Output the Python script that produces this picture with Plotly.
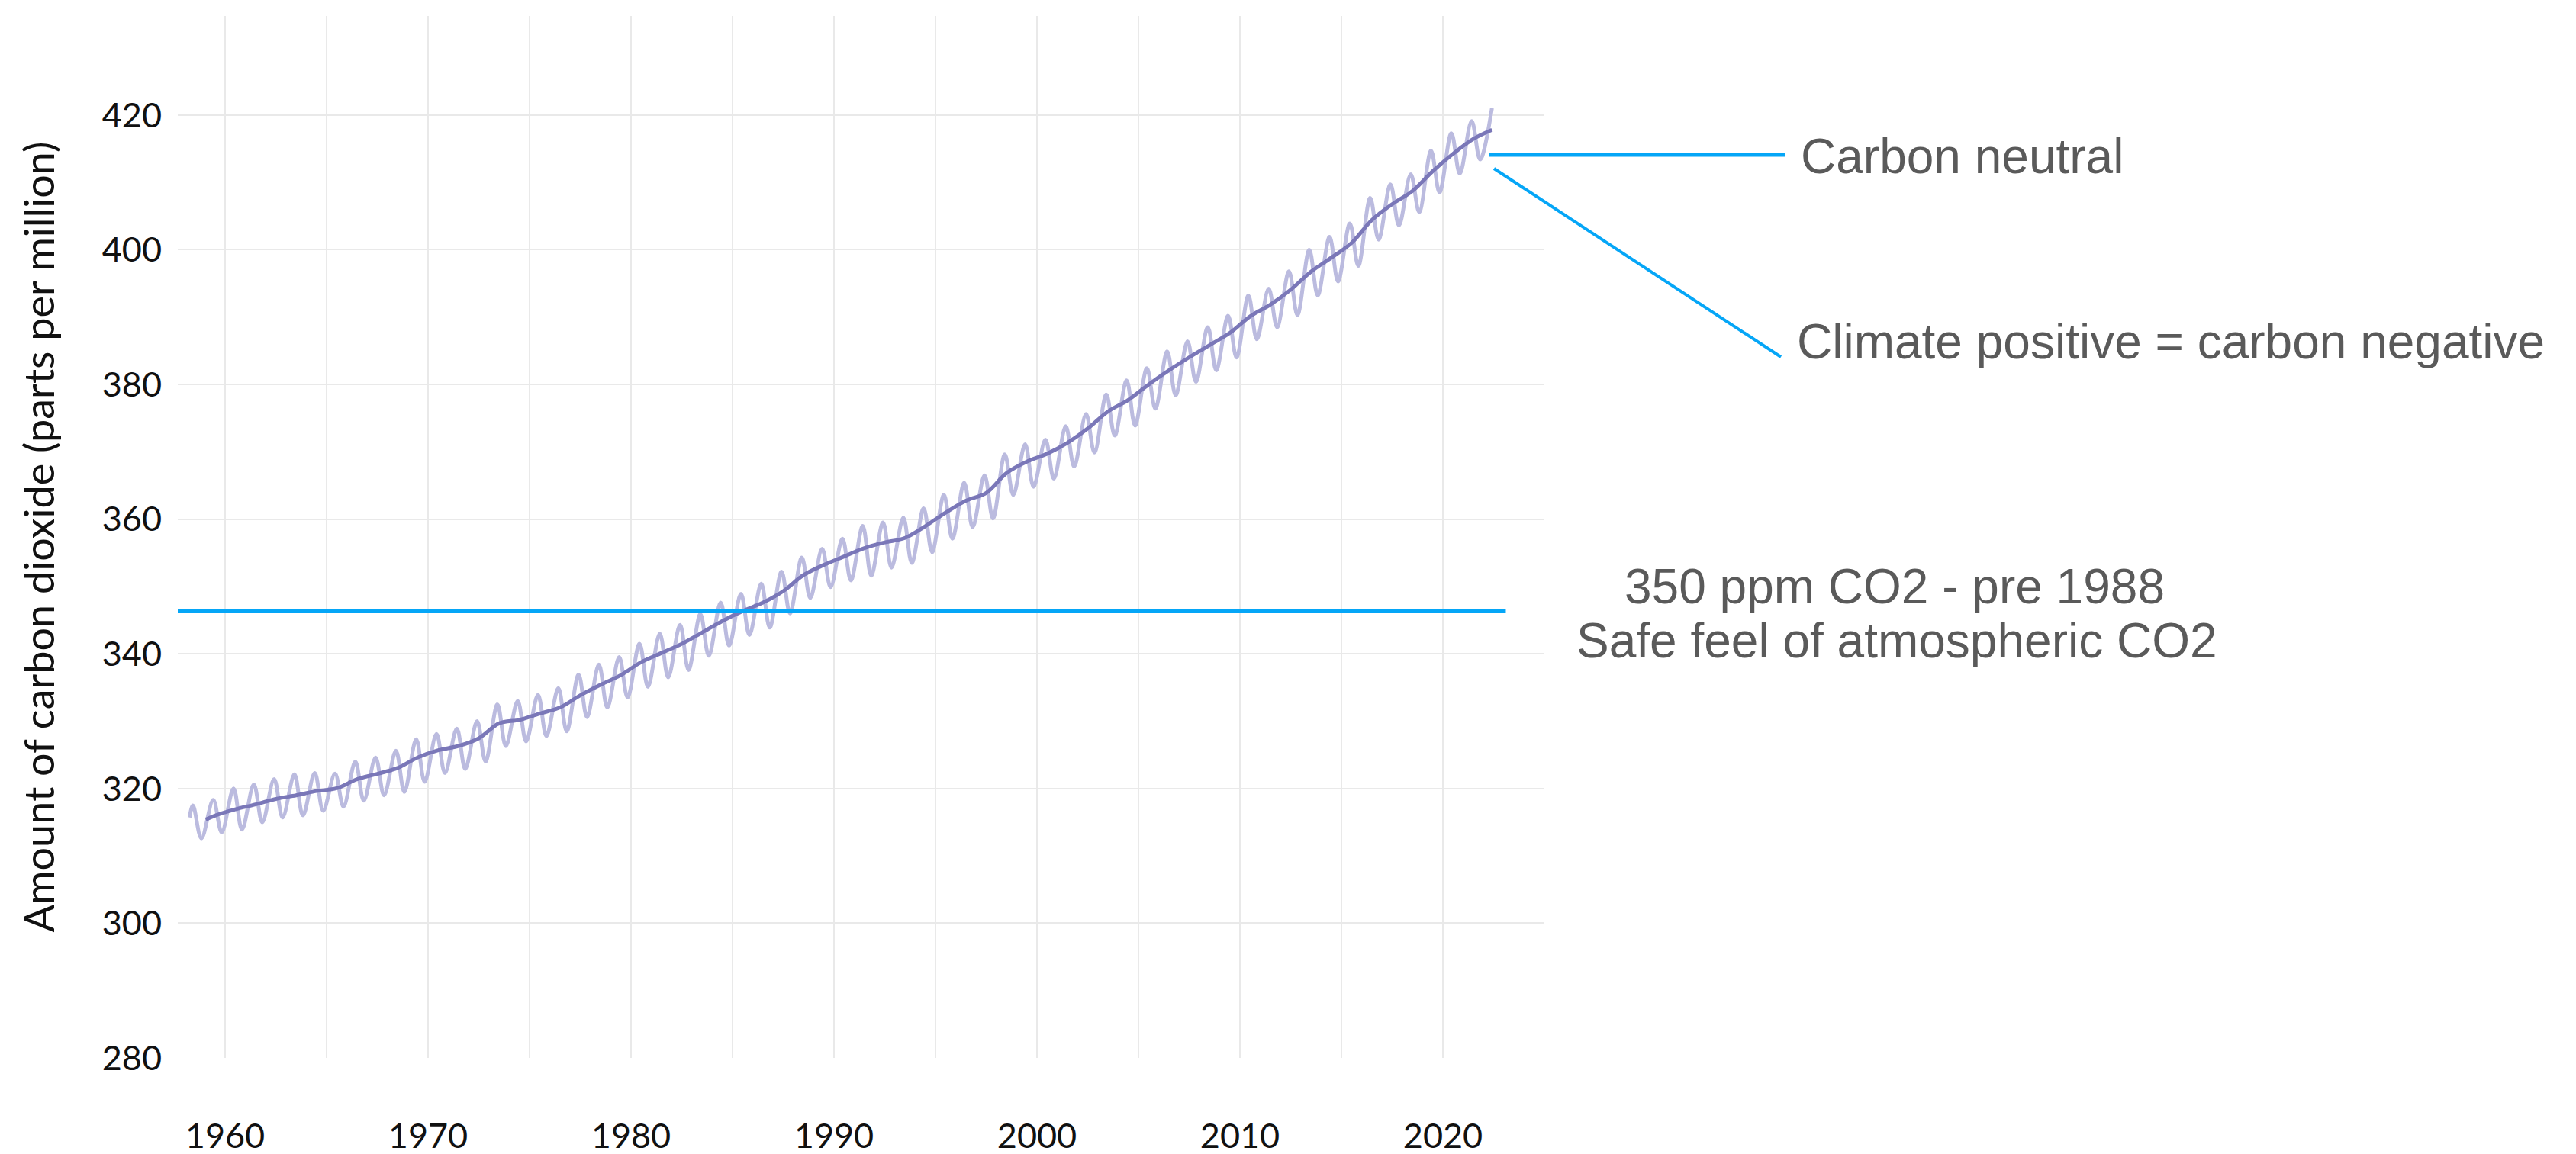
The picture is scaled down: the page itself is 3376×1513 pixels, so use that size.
import plotly.graph_objects as go

# ---------------- data ----------------
# Monthly CO2 at Mauna Loa, read as seasonal maxima (May) and minima (October)
season_years = list(range(1958, 2023))
may_peak_ppm = [317.5, 318.3, 320.0, 320.6, 321.4, 322.1, 322.3, 322.2, 324.0, 324.6,
                325.6, 327.3, 328.1, 328.9, 330.0, 332.5, 333.0, 333.9, 334.9, 336.9,
                338.4, 339.5, 341.5, 343.0, 344.3, 345.9, 347.6, 348.9, 350.4, 352.2,
                354.3, 355.6, 357.1, 359.0, 359.5, 360.2, 361.6, 363.6, 365.4, 366.5,
                369.6, 371.1, 371.8, 373.8, 375.6, 378.5, 380.6, 382.4, 384.9, 386.4,
                388.5, 390.2, 393.2, 394.2, 396.8, 400.0, 401.9, 403.9, 407.7, 409.7,
                411.2, 414.7, 417.3, 419.1, 421.0]
oct_trough_ppm = [312.6, 313.5, 313.9, 315.0, 315.7, 316.0, 316.7, 317.3, 318.2, 319.0,
                  319.5, 321.0, 322.3, 322.9, 324.0, 326.3, 327.0, 327.8, 328.5, 330.6,
                  332.0, 333.5, 335.1, 336.5, 337.6, 339.7, 341.2, 342.8, 343.9, 346.0,
                  348.3, 349.9, 350.9, 351.6, 352.8, 353.5, 355.1, 357.1, 358.8, 360.1,
                  363.6, 364.8, 366.0, 367.8, 369.9, 372.4, 373.9, 376.4, 378.4, 380.4,
                  382.1, 384.0, 386.7, 388.5, 390.3, 393.2, 395.3, 397.6, 401.5, 403.6,
                  405.6, 408.5, 411.3, 413.4]
first_month_year = 1958.25      # March 1958
first_month_ppm = 315.7

# Smoothed trend (annual level)
trend_year = [1959.05] + [y + 0.5 for y in range(1959, 2022)] + [2022.42]
trend_ppm = [315.4,
             315.98, 316.91, 317.64, 318.45, 318.99, 319.62, 320.04, 321.37, 322.18, 323.05,
             324.62, 325.68, 326.32, 327.46, 329.68, 330.19, 331.13, 332.03, 333.84, 335.41,
             336.84, 338.76, 340.12, 341.48, 343.15, 344.87, 346.35, 347.61, 349.31, 351.69,
             353.20, 354.45, 355.70, 356.54, 357.21, 358.96, 360.97, 362.74, 363.88, 366.84,
             368.54, 369.71, 371.32, 373.45, 375.98, 377.70, 379.98, 382.09, 384.02, 385.83,
             387.64, 390.10, 391.85, 394.06, 396.74, 398.81, 401.01, 404.41, 406.76, 408.72,
             411.66, 414.24, 416.45,
             417.8]

safe_level_ppm = 346.3
safe_line_end_year = 2023.1

y_ticks = [280, 300, 320, 340, 360, 380, 400, 420]
x_ticks = [1960, 1970, 1980, 1990, 2000, 2010, 2020]
x_minor = [1965, 1975, 1985, 1995, 2005, 2015, 2025]

# build the seasonal series (peak in May, trough in October)
season_x = [first_month_year]
season_y = [first_month_ppm]
for i, yr in enumerate(season_years):
    season_x.append(yr + 5 / 12)
    season_y.append(may_peak_ppm[i])
    if i < len(oct_trough_ppm):
        season_x.append(yr + 10 / 12)
        season_y.append(oct_trough_ppm[i])

# ---------------- figure ----------------
W, H = 3376, 1513
OFF = 8                      # page body margin of the html page
ML, MT = 233 - OFF, 21 - OFF
PW, PH = 1791, 1366
MR = W - ML - PW
MB = H - MT - PH

def px(xp):
    return (xp - OFF - ML) / PW

def py(yp):
    return (MT + PH - (yp - OFF)) / PH

fig = go.Figure()
fig.add_trace(go.Scatter(x=season_x, y=season_y, mode="lines",
                         line=dict(color="#bbbbdf", width=5, shape="spline", smoothing=1),
                         hoverinfo="x+y", showlegend=False))
fig.add_trace(go.Scatter(x=trend_year, y=trend_ppm, mode="lines",
                         line=dict(color="#7a77b8", width=5, shape="spline", smoothing=1),
                         hoverinfo="x+y", showlegend=False))

BLUE = "#05a6f7"
TXT = "#5a5a5a"
# 350 ppm line
fig.add_shape(type="line", xref="x", yref="y", x0=1957.67, x1=safe_line_end_year,
              y0=safe_level_ppm, y1=safe_level_ppm, line=dict(color=BLUE, width=5))
# carbon neutral pointer
fig.add_shape(type="line", xref="paper", yref="paper", x0=px(1951), x1=px(2339),
              y0=py(203), y1=py(203), line=dict(color=BLUE, width=5))
# carbon negative pointer
fig.add_shape(type="line", xref="paper", yref="paper", x0=px(1958), x1=px(2334),
              y0=py(221), y1=py(468), line=dict(color=BLUE, width=4))

afont = dict(family="Liberation Sans, Arial, sans-serif", size=64, color=TXT)
fig.add_annotation(text="Carbon neutral", xref="paper", yref="paper", x=px(2358), y=py(205),
                   xanchor="left", yanchor="middle", showarrow=False, font=afont)
fig.add_annotation(text="Climate positive = carbon negative", xref="paper", yref="paper",
                   x=px(2353), y=py(448), xanchor="left", yanchor="middle", showarrow=False, font=afont)
fig.add_annotation(text="350 ppm CO2 - pre 1988", xref="paper", yref="paper",
                   x=px(2483), y=py(769), xanchor="center", yanchor="middle", showarrow=False, font=afont)
fig.add_annotation(text="Safe feel of atmospheric CO2", xref="paper", yref="paper",
                   x=px(2486), y=py(840), xanchor="center", yanchor="middle", showarrow=False, font=afont)

tick_font = dict(family="Lato, 'Source Sans Pro', sans-serif", size=45, color="#111111")
fig.update_layout(
    width=W, height=H,
    margin=dict(l=ML, r=MR, t=MT, b=MB, autoexpand=False),
    paper_bgcolor="white", plot_bgcolor="white",
    showlegend=False,
    xaxis=dict(range=[1957.67, 2025], tickmode="array", tickvals=x_ticks,
               ticktext=[str(v) for v in x_ticks],
               showgrid=True, gridcolor="#e9e9e9", gridwidth=2,
               minor=dict(tickmode="array", tickvals=x_minor,
                          showgrid=True, gridcolor="#e9e9e9", gridwidth=2),
               zeroline=False, showline=False, ticks="", tickfont=tick_font,
               ticklabelstandoff=72, automargin=False),
    yaxis=dict(range=[280, 434.7], tickmode="array", tickvals=y_ticks,
               ticktext=[str(v) for v in y_ticks],
               showgrid=True, gridcolor="#e9e9e9", gridwidth=2,
               zeroline=False, showline=False, ticks="", tickfont=tick_font,
               ticklabelstandoff=20, automargin=False,
               title=dict(text="Amount of carbon dioxide (parts per million)",
                          font=dict(family="Lato, 'Source Sans Pro', sans-serif", size=54, color="#111111"),
                          standoff=44)),
)

fig.write_html("out.html")
